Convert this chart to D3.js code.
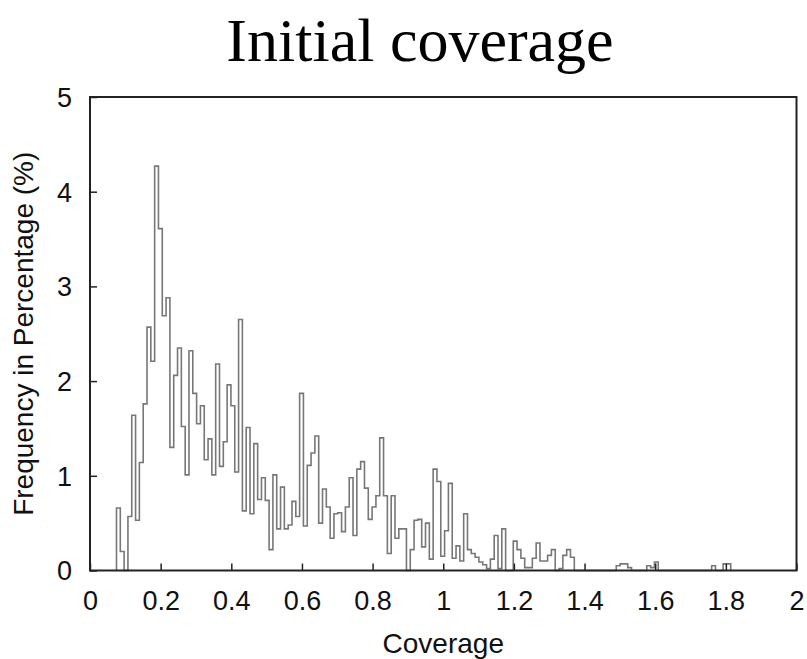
<!DOCTYPE html>
<html>
<head>
<meta charset="utf-8">
<script src="https://cdn.jsdelivr.net/npm/d3@7"></script>
<style>
  html, body { margin: 0; padding: 0; background: #fff; }
  svg { display: block; }
</style>
</head>
<body>
<svg id="chart" width="807" height="659"></svg>
<script>
// Histogram of initial coverage: frequency (%) per coverage bin.
const binStart = 0.075;      // left edge of the first bin
const binWidth = 0.0108;     // width of each bin in coverage units

const frequency = [
  0.66, 0.20, 0.00, 0.57, 1.64, 0.53, 1.14, 1.76, 2.57, 2.21,
  4.27, 3.61, 2.69, 2.88, 1.30, 2.06, 2.35, 1.52, 1.01, 2.32,
  1.87, 1.55, 1.74, 1.17, 1.39, 1.01, 2.18, 1.10, 1.36, 1.96,
  1.74, 1.04, 2.65, 0.63, 1.51, 0.60, 1.34, 0.75, 0.98, 0.74,
  0.22, 1.01, 0.44, 0.88, 0.44, 0.48, 0.73, 0.57, 1.87, 0.47,
  1.11, 1.24, 1.42, 0.50, 0.86, 0.67, 0.34, 0.60, 0.61, 0.41,
  0.67, 0.98, 0.37, 1.07, 1.15, 0.87, 0.54, 0.67, 0.79, 1.40,
  0.79, 0.18, 0.79, 0.34, 0.44, 0.44, 0.00, 0.22, 0.53, 0.54,
  0.25, 0.50, 0.12, 1.07, 0.94, 0.15, 0.42, 0.92, 0.13, 0.26,
  0.10, 0.60, 0.22, 0.18, 0.14, 0.09, 0.06, 0.02, 0.12, 0.37,
  0.02, 0.44, 0.00, 0.00, 0.31, 0.22, 0.13, 0.03, 0.03, 0.13,
  0.29, 0.10, 0.10, 0.16, 0.22, 0.00, 0.02, 0.16, 0.22, 0.14,
  0.00, 0.00, 0.00, 0.00, 0.00, 0.00, 0.00, 0.00, 0.00, 0.00,
  0.00, 0.05, 0.07, 0.07, 0.03, 0.00, 0.00, 0.00, 0.00, 0.05,
  0.03, 0.09, 0.00, 0.00, 0.00, 0.00, 0.00, 0.00, 0.00, 0.00,
  0.00, 0.00, 0.00, 0.00, 0.00, 0.00, 0.05, 0.00, 0.00, 0.07,
  0.07
];

const xTicks = [0, 0.2, 0.4, 0.6, 0.8, 1, 1.2, 1.4, 1.6, 1.8, 2];
const xTickLabels = ["0", "0.2", "0.4", "0.6", "0.8", "1", "1.2", "1.4", "1.6", "1.8", "2"];
const yTicks = [0, 1, 2, 3, 4, 5];
const yTickLabels = ["0", "1", "2", "3", "4", "5"];

const titleText = "Initial coverage";
const xTitle = "Coverage";
const yTitle = "Frequency in Percentage (%)";

const svg = d3.select("#chart");
const plot = { left: 90, right: 796.5, top: 97, bottom: 570.5 };

const x = d3.scaleLinear().domain([0, 2]).range([plot.left, plot.right]);
const y = d3.scaleLinear().domain([0, 5]).range([plot.bottom, plot.top]);

// Step outline: rise at the first edge, one flat top per bin, drop at the last edge.
const steps = frequency.map((v, i) => [binStart + i * binWidth, v]);
steps.unshift([binStart, 0]);
steps.push([binStart + frequency.length * binWidth, 0]);

const stepLine = d3.line()
  .x(d => x(d[0]))
  .y(d => y(d[1]))
  .curve(d3.curveStepAfter);

svg.append("path")
  .datum(steps)
  .attr("fill", "none")
  .attr("stroke", "#777")
  .attr("stroke-width", 1.6)
  .attr("d", stepLine);

// Axes with inward ticks.
const tickLen = 7;
const xAxis = d3.axisBottom(x)
  .tickValues(xTicks)
  .tickSizeInner(-tickLen)
  .tickSizeOuter(0)
  .tickPadding(20)
  .tickFormat((d, i) => xTickLabels[i]);

const yAxis = d3.axisLeft(y)
  .tickValues(yTicks)
  .tickSizeInner(-tickLen)
  .tickSizeOuter(0)
  .tickPadding(18)
  .tickFormat((d, i) => yTickLabels[i]);

const gx = svg.append("g")
  .attr("transform", `translate(0,${plot.bottom})`)
  .call(xAxis);
const gy = svg.append("g")
  .attr("transform", `translate(${plot.left},0)`)
  .call(yAxis);

[gx, gy].forEach(g => {
  g.select(".domain").remove();
  g.selectAll(".tick line").attr("stroke", "#222").attr("stroke-width", 1.5);
  g.selectAll(".tick text")
    .attr("fill", "#111")
    .style("font-family", "'Liberation Sans', Arial, sans-serif")
    .style("font-size", "27px");
});
gx.selectAll(".tick text").attr("dy", "0.71em");
gy.selectAll(".tick text").attr("dy", "0.35em");

// Plot frame.
svg.append("rect")
  .attr("x", plot.left)
  .attr("y", plot.top)
  .attr("width", plot.right - plot.left)
  .attr("height", plot.bottom - plot.top)
  .attr("fill", "none")
  .attr("stroke", "#222")
  .attr("stroke-width", 2);

// Titles.
svg.append("text")
  .attr("x", 420)
  .attr("y", 61)
  .attr("text-anchor", "middle")
  .style("font-family", "'Liberation Serif', 'Times New Roman', serif")
  .style("font-size", "62px")
  .attr("fill", "#000")
  .text(titleText);

svg.append("text")
  .attr("x", (plot.left + plot.right) / 2)
  .attr("y", 653)
  .attr("text-anchor", "middle")
  .style("font-family", "'Liberation Sans', Arial, sans-serif")
  .style("font-size", "28px")
  .attr("fill", "#111")
  .text(xTitle);

svg.append("text")
  .attr("transform", `translate(33,${(plot.top + plot.bottom) / 2}) rotate(-90)`)
  .attr("text-anchor", "middle")
  .style("font-family", "'Liberation Sans', Arial, sans-serif")
  .style("font-size", "28px")
  .attr("fill", "#111")
  .text(yTitle);
</script>
</body>
</html>
